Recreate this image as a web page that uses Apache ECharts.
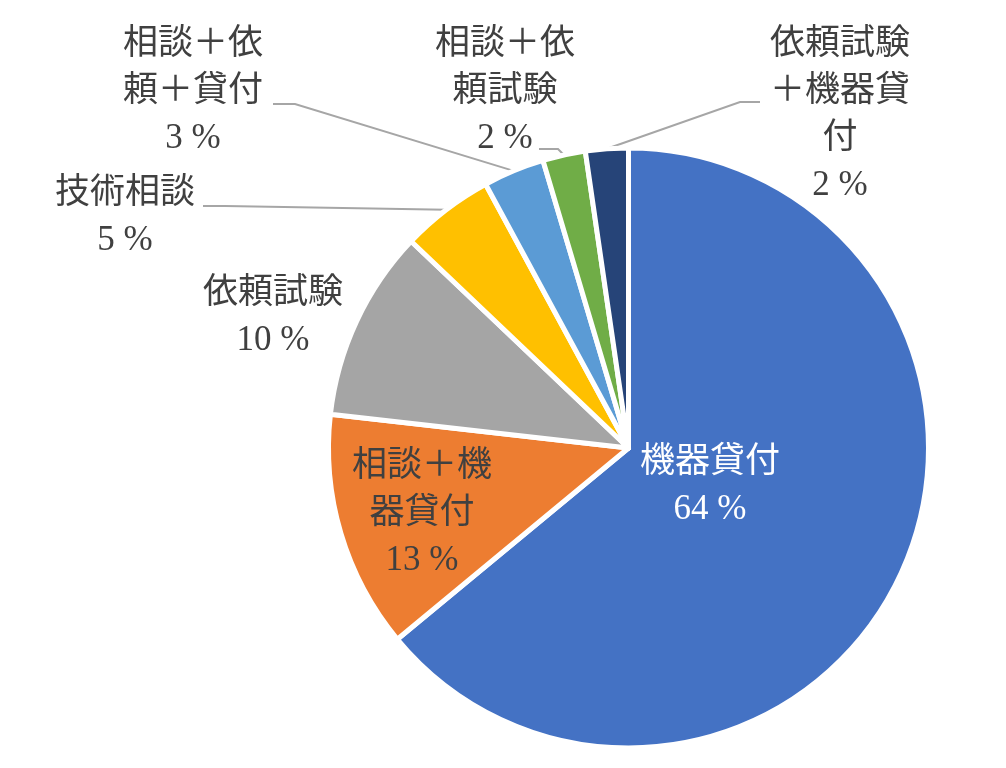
<!DOCTYPE html>
<html>
<head>
<meta charset="utf-8">
<script src="https://cdn.jsdelivr.net/npm/echarts@6/dist/echarts.min.js"></script>
<style>
  html, body { margin: 0; padding: 0; background: #fff; }
  #chart { width: 1006px; height: 768px; }
</style>
</head>
<body>
<div id="chart"></div>
<script>
// data (share of requests, %)
const categories = ['機器貸付', '相談＋機器貸付', '依頼試験', '技術相談', '相談＋依頼＋貸付', '相談＋依頼試験', '依頼試験＋機器貸付']
const values = [64.0, 12.8, 10.3, 5.0, 3.3, 2.3, 2.3]
const colors = ['#4472C4', '#ED7D31', '#A5A5A5', '#FFC000', '#5B9BD5', '#70AD47', '#264478']

// label placement (centre of each text block) and leader line start/bend
const labelPos = [[710, 486], [422, 514], [273, 317], [125, 217], [193, 92], [505, 92], [840, 115]]
const leader = [null, null, null, [[203, 206], [225, 206]], [[273, 104], [295, 104]], [[539, 149], [558, 149]], [[760, 102], [740, 102]]]

const FONT = "'Liberation Serif', 'Noto Sans CJK JP', serif"

const chart = echarts.init(document.getElementById('chart'))

const data = categories.map((name, i) => {
  let item = {
    name: name,
    value: values[i],
    itemStyle: { color: colors[i] }
  }
  if (!leader[i]) {
    item.labelLine = { show: false }
  }
  if (i === 0) {
    item.label = { color: '#ffffff' }
  }
  return item
})

chart.setOption({
  backgroundColor: '#ffffff',
  animation: false,
  series: [
    {
      type: 'pie',
      center: [628.5, 448],
      radius: 300,
      startAngle: 90,
      clockwise: true,
      avoidLabelOverlap: false,
      itemStyle: {
        borderColor: '#ffffff',
        borderWidth: 5
      },
      label: {
        show: true,
        position: 'outside',
        color: '#404040',
        fontFamily: FONT,
        fontSize: 35,
        lineHeight: 47,
        width: 150,
        overflow: 'break',
        align: 'center',
        formatter: (p) => p.name + '\n' + Math.round(p.percent) + ' %'
      },
      labelLine: {
        show: true,
        smooth: false,
        lineStyle: { color: '#A6A6A6', width: 2 }
      },
      labelLayout: (params) => {
        const i = params.dataIndex
        let out = {
          x: labelPos[i][0],
          y: labelPos[i][1],
          align: 'center',
          verticalAlign: 'middle'
        }
        if (leader[i] && params.labelLinePoints) {
          const onArc = params.labelLinePoints[0]
          out.labelLinePoints = [onArc, leader[i][1], leader[i][0]]
        }
        return out
      },
      data: data
    }
  ]
})
</script>
</body>
</html>
